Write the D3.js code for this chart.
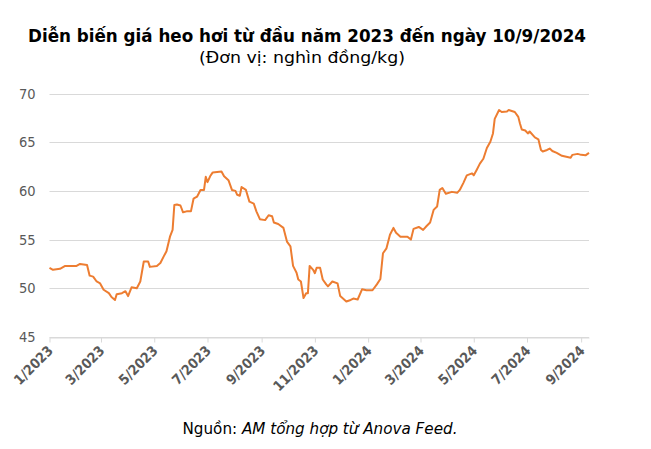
<!DOCTYPE html>
<html>
<head>
<meta charset="utf-8">
<script src="https://cdn.jsdelivr.net/npm/d3@7"></script>
<style>
  html, body { margin: 0; padding: 0; background: #fff; }
  svg { display: block; }
</style>
</head>
<body>
<svg id="chart" width="651" height="449"></svg>
<script>
const titleText = "Diễn biến giá heo hơi từ đầu năm 2023 đến ngày 10/9/2024";
const subtitleText = "(Đơn vị: nghìn đồng/kg)";
const sourceLabel = "Nguồn: ";
const sourceText = "AM tổng hợp từ Anova Feed.";

const dates = [
  "2023-01-01","2023-01-05","2023-01-13","2023-01-19","2023-02-01","2023-02-05","2023-02-13","2023-02-16",
  "2023-02-20","2023-02-24","2023-02-28","2023-03-04","2023-03-10","2023-03-13","2023-03-17","2023-03-19",
  "2023-03-25","2023-03-29","2023-04-01","2023-04-05","2023-04-11","2023-04-15","2023-04-19","2023-04-24",
  "2023-04-26","2023-05-04","2023-05-08","2023-05-12","2023-05-15","2023-05-19","2023-05-22","2023-05-24",
  "2023-05-27","2023-05-31","2023-06-03","2023-06-07","2023-06-12","2023-06-15","2023-06-19","2023-06-23",
  "2023-06-27","2023-06-29","2023-07-01","2023-07-04","2023-07-07","2023-07-17","2023-07-20","2023-07-25",
  "2023-07-29","2023-08-02","2023-08-04","2023-08-07","2023-08-09","2023-08-14","2023-08-18","2023-08-23",
  "2023-08-26","2023-08-30","2023-09-05","2023-09-09","2023-09-13","2023-09-15","2023-09-20","2023-09-26",
  "2023-09-30","2023-10-04","2023-10-07","2023-10-11","2023-10-13","2023-10-16","2023-10-19","2023-10-22",
  "2023-10-24","2023-10-26","2023-10-30","2023-11-01","2023-11-03","2023-11-07","2023-11-10","2023-11-14",
  "2023-11-16","2023-11-21","2023-11-27","2023-11-30","2023-12-07","2023-12-12","2023-12-15","2023-12-20",
  "2023-12-25","2023-12-30","2024-01-06","2024-01-11","2024-01-15","2024-01-18","2024-01-22","2024-01-26",
  "2024-01-30","2024-02-02","2024-02-07","2024-02-15","2024-02-19","2024-02-22","2024-02-28","2024-03-04",
  "2024-03-08","2024-03-12","2024-03-16","2024-03-20","2024-03-23","2024-03-26","2024-03-30","2024-04-06",
  "2024-04-12","2024-04-15","2024-04-19","2024-04-23","2024-04-29","2024-05-01","2024-05-04","2024-05-08",
  "2024-05-12","2024-05-16","2024-05-20","2024-05-23","2024-05-25","2024-05-30","2024-06-02","2024-06-08",
  "2024-06-10","2024-06-17","2024-06-21","2024-06-23","2024-06-25","2024-06-29","2024-07-02","2024-07-04",
  "2024-07-10","2024-07-14","2024-07-17","2024-07-19","2024-07-24","2024-07-27","2024-07-30","2024-08-04",
  "2024-08-10","2024-08-15","2024-08-20","2024-08-22","2024-08-28","2024-09-01","2024-09-06","2024-09-10"
];
const prices = [
  52.1,51.9,52.0,52.3,52.3,52.5,52.4,51.3,
  51.2,50.7,50.5,49.85,49.5,49.1,48.8,49.4,
  49.5,49.7,49.2,50.1,50.0,50.7,52.75,52.75,
  52.2,52.3,52.6,53.3,53.8,55.3,56.0,58.55,
  58.6,58.5,57.8,57.9,57.9,59.2,59.4,60.1,
  60.1,61.45,60.9,61.5,61.9,62.0,61.5,61.1,
  60.1,60.0,59.6,59.5,60.4,60.1,58.9,58.7,
  57.9,57.1,57.0,57.5,57.4,56.75,56.6,56.2,
  54.8,54.3,52.3,51.6,50.9,50.7,49.0,49.5,
  49.5,52.3,51.9,51.55,52.1,52.1,50.9,50.4,
  50.2,50.7,50.5,49.2,48.65,48.8,48.95,48.85,
  49.9,49.8,49.8,50.4,50.95,53.6,54.1,55.5,
  56.2,55.7,55.3,55.3,55.0,56.1,56.3,56.0,
  56.4,56.75,58.05,58.4,60.1,60.3,59.7,59.9,
  59.8,60.1,60.8,61.6,61.8,61.6,62.1,62.8,
  63.3,64.4,65.05,65.9,67.4,68.3,68.1,68.15,
  68.3,68.1,67.6,66.9,66.3,66.2,65.9,66.1,
  65.5,65.3,64.2,64.05,64.2,64.35,64.1,63.9,
  63.6,63.5,63.4,63.7,63.8,63.7,63.65,63.9
];
const yTicks = [45, 50, 55, 60, 65, 70];
const xTickDates = ["2023-01-01","2023-03-01","2023-05-01","2023-07-01","2023-09-01","2023-11-01",
                    "2024-01-01","2024-03-01","2024-05-01","2024-07-01","2024-09-01"];
const xTickLabels = ["1/2023","3/2023","5/2023","7/2023","9/2023","11/2023",
                     "1/2024","3/2024","5/2024","7/2024","9/2024"];
const domainStart = "2023-01-01", domainEnd = "2024-09-10";

const parse = d3.timeParse("%Y-%m-%d");
const data = dates.map((d, i) => ({ date: parse(d), value: prices[i] }));

const svg = d3.select("#chart");
const margin = { left: 49.5, right: 62, top: 93.5, bottom: 112 };
const W = 651, H = 449;

const x = d3.scaleTime()
  .domain([parse(domainStart), parse(domainEnd)])
  .range([margin.left, W - margin.right]);
const y = d3.scaleLinear()
  .domain([45, 70])
  .range([H - margin.bottom, margin.top]);

const FONT = "'DejaVu Sans Condensed', 'DejaVu Sans', sans-serif";
const grey = "#595959";

// gridlines
svg.append("g")
  .selectAll("line")
  .data(yTicks)
  .join("line")
  .attr("x1", margin.left).attr("x2", W - margin.right)
  .attr("y1", d => Math.round(y(d)) + 0.5).attr("y2", d => Math.round(y(d)) + 0.5)
  .attr("stroke", "#d9d9d9").attr("stroke-width", 1);

// y axis labels
const yAxis = d3.axisLeft(y).tickValues(yTicks).tickSize(0).tickPadding(14);
const gy = svg.append("g")
  .attr("transform", `translate(${margin.left},0)`)
  .call(yAxis);
gy.select(".domain").remove();
gy.selectAll("text")
  .attr("font-family", FONT)
  .attr("font-size", 14.5)
  .attr("fill", grey);

// x axis
const xAxis = d3.axisBottom(x)
  .tickValues(xTickDates.map(parse))
  .tickFormat((d, i) => xTickLabels[i])
  .tickSize(5)
  .tickSizeOuter(0);
const gx = svg.append("g")
  .attr("transform", `translate(0,${Math.round(y(45)) + 0.5})`)
  .call(xAxis);
gx.select(".domain").attr("stroke", "#d9d9d9");
gx.selectAll(".tick line").attr("stroke", "#d9d9d9");
gx.selectAll(".tick text")
  .attr("font-family", FONT)
  .attr("font-size", 14)
  .attr("font-weight", "bold")
  .attr("fill", grey)
  .attr("text-anchor", "end")
  .attr("dy", null)
  .attr("y", 0)
  .attr("transform", "translate(4,14) rotate(-45)");

// line
const line = d3.line()
  .x(d => x(d.date))
  .y(d => y(d.value))
  .curve(d3.curveLinear);
svg.append("path")
  .datum(data)
  .attr("d", line)
  .attr("fill", "none")
  .attr("stroke", "#ED7D31")
  .attr("stroke-width", 2)
  .attr("stroke-linejoin", "round");

// titles
svg.append("text")
  .attr("x", 307).attr("y", 42)
  .attr("text-anchor", "middle")
  .attr("font-family", FONT)
  .attr("font-weight", "bold")
  .attr("font-size", 17)
  .attr("fill", "#000")
  .attr("textLength", 558)
  .attr("lengthAdjust", "spacingAndGlyphs")
  .text(titleText);

svg.append("text")
  .attr("x", 302).attr("y", 63)
  .attr("text-anchor", "middle")
  .attr("font-family", FONT)
  .attr("font-size", 15)
  .attr("fill", "#000")
  .attr("textLength", 206)
  .attr("lengthAdjust", "spacingAndGlyphs")
  .text(subtitleText);

// source
const src = svg.append("text")
  .attr("x", 320).attr("y", 434)
  .attr("text-anchor", "middle")
  .attr("font-family", FONT)
  .attr("font-size", 15)
  .attr("fill", "#000")
  .attr("textLength", 275)
  .attr("lengthAdjust", "spacingAndGlyphs");
src.append("tspan").text(sourceLabel);
src.append("tspan").attr("font-style", "italic").text(sourceText);
</script>
</body>
</html>
